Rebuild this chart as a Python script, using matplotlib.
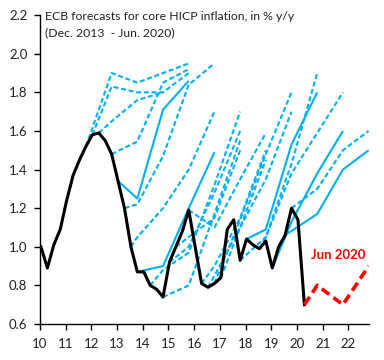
import matplotlib
matplotlib.use("Agg")
import matplotlib.pyplot as plt
from matplotlib.ticker import FixedLocator, FuncFormatter

# ---------------- data ----------------
core_start_year = 2010
# core HICP inflation, quarterly from 2010Q1 to 2020Q2
core_hicp = [1.00, 0.89, 1.01, 1.09,
             1.24, 1.37, 1.45, 1.52,
             1.58, 1.59, 1.55, 1.48,
             1.34, 1.20, 1.00, 0.87,
             0.87, 0.80, 0.78, 0.74,
             0.92, 1.00, 1.08, 1.19,
             1.00, 0.81, 0.79, 0.81,
             0.84, 1.09, 1.14, 0.93,
             1.04, 1.01, 0.99, 1.03,
             0.89, 1.00, 1.06, 1.20,
             1.14, 0.70]

# forecast vintages: origin quarter on the actual line, first projected year,
# annual projections (plotted at Q4 of each year), solid or dashed
fc_origin = ["2011Q4", "2012Q1", "2012Q2", "2012Q4", "2013Q1", "2013Q2",
             "2013Q3", "2013Q4", "2014Q2", "2015Q1", "2014Q4", "2015Q2",
             "2015Q4", "2016Q2", "2016Q3", "2016Q4", "2017Q1", "2017Q4",
             "2018Q1", "2018Q3", "2019Q1", "2019Q4", "2019Q3"]
fc_first_year = [2012, 2012, 2012, 2013, 2013, 2013,
                 2013, 2014, 2014, 2015, 2015, 2015,
                 2016, 2016, 2016, 2017, 2017, 2018,
                 2018, 2018, 2019, 2020, 2020]
fc_values = [[1.90, 1.85, 1.90, 1.95],
             [1.83, 1.80, 1.80, 1.90],
             [1.65, 1.76, 1.80],
             [1.545, 1.85, 1.92],
             [1.25, 1.71, 1.86],
             [1.22, 1.47, 1.84, 1.95],
             [1.05, 1.20, 1.40, 1.70],
             [0.90, 1.20, 1.49],
             [0.88, 0.97, 1.32, 1.70],
             [1.00, 1.28, 1.60],
             [0.80, 1.17, 1.55],
             [1.05, 1.15, 1.50],
             [1.10, 1.35, 1.59],
             [0.90, 1.15, 1.50],
             [0.85, 1.10, 1.45],
             [1.14, 1.48, 1.80],
             [1.10, 1.35, 1.70],
             [1.05, 1.43, 1.90],
             [1.09, 1.53, 1.80],
             [1.05, 1.38, 1.59, 1.80],
             [1.13, 1.38, 1.60],
             [1.30, 1.50, 1.60],
             [1.17, 1.40, 1.50]]
fc_solid = [False, False, False, False, True, False,
            False, True, False, False, False, False,
            False, False, False, False, False, False,
            True, False, True, False, True]

jun2020_years = [2020, 2021, 2022]
jun2020_values = [0.80, 0.70, 0.90]

title_lines = ["ECB forecasts for core HICP inflation, in % y/y",
               "(Dec. 2013  - Jun. 2020)"]
jun_label = "Jun 2020"

# ---------------- helpers ----------------
SHIFT = 0.04


def qpos(label):
    y = int(label[:4]); q = int(label[-1])
    return y + (q - 1) / 4 + SHIFT


def qindex(label):
    y = int(label[:4]); q = int(label[-1])
    return (y - core_start_year) * 4 + (q - 1)


def ypos(year):
    return year + 0.75 + SHIFT


core_x = [core_start_year + i / 4 + SHIFT for i in range(len(core_hicp))]

# ---------------- plot ----------------
plt.rcParams['font.family'] = ['Lato', 'DejaVu Sans']
fig = plt.figure(figsize=(3.84, 3.60), dpi=100)
ax = fig.add_axes([0.104, 0.10, 0.858, 0.858])

blue = '#00B0F0'
for org, fy, vals, solid in zip(fc_origin, fc_first_year, fc_values, fc_solid):
    xs = [qpos(org)] + [ypos(fy + k) for k in range(len(vals))]
    ys = [core_hicp[qindex(org)]] + list(vals)
    if solid:
        ax.plot(xs, ys, color=blue, lw=1.5, solid_capstyle='butt', zorder=2)
    else:
        ax.plot(xs, ys, color=blue, lw=1.5, dashes=(2.4, 1.3), zorder=2)

ax.plot(core_x, core_hicp, color='black', lw=2.2, zorder=3,
        solid_joinstyle='round')

red_x = [core_x[-1]] + [ypos(y) for y in jun2020_years]
red_y = [core_hicp[-1]] + jun2020_values
ax.plot(red_x, red_y, color='#FF0000', lw=2.6, dashes=(2.6, 1.4), zorder=4)

ax.text(2021.59, 0.957, jun_label, color='#FF0000', fontsize=9.5,
        fontweight='bold', ha='center', va='center')

fig.text(45 / 384, 1 - 16 / 360, title_lines[0], fontsize=8.8,
         ha='left', va='center', color='#222222')
fig.text(45 / 384, 1 - 33 / 360, title_lines[1], fontsize=8.8,
         ha='left', va='center', color='#222222')

ax.set_xlim(2010, 2022.82)
ax.set_ylim(0.6, 2.2)
ax.xaxis.set_major_locator(FixedLocator(list(range(2010, 2023))))
ax.xaxis.set_major_formatter(FuncFormatter(lambda v, p: f"{int(round(v)) % 100:02d}"))
ax.yaxis.set_major_locator(FixedLocator([0.6 + 0.2 * i for i in range(9)]))
ax.yaxis.set_major_formatter(FuncFormatter(lambda v, p: f"{v:.1f}"))

for s in ['top', 'right']:
    ax.spines[s].set_visible(False)
for s in ['left', 'bottom']:
    ax.spines[s].set_linewidth(1.0)
    ax.spines[s].set_color('black')
ax.tick_params(axis='both', direction='out', length=4, width=1.0,
               labelsize=9.5, colors='black', labelcolor='#222222')
ax.tick_params(axis='x', pad=6)
ax.tick_params(axis='y', pad=5)

fig.savefig('out.png', dpi=100)
